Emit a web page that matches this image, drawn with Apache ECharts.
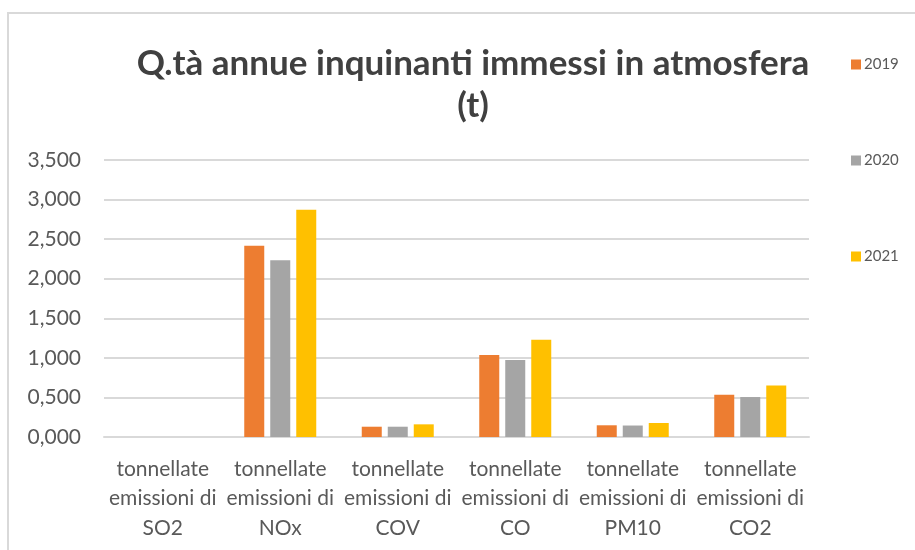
<!DOCTYPE html>
<html>
<head>
<meta charset="utf-8">
<script src="https://cdn.jsdelivr.net/npm/echarts@6/dist/echarts.min.js"></script>
<style>
  html, body { margin: 0; padding: 0; background: #fff; }
  #main { width: 915px; height: 550px; }
</style>
</head>
<body>
<div id="main"></div>
<script>
// categorie e valori
var categories = [
  "tonnellate\nemissioni di\nSO2",
  "tonnellate\nemissioni di\nNOx",
  "tonnellate\nemissioni di\nCOV",
  "tonnellate\nemissioni di\nCO",
  "tonnellate\nemissioni di\nPM10",
  "tonnellate\nemissioni di\nCO2"
];
var years = ["2019", "2020", "2021"];
var values2019 = [0, 2.415, 0.13, 1.037, 0.148, 0.535];
var values2020 = [0, 2.234, 0.13, 0.973, 0.145, 0.505];
var values2021 = [0, 2.87, 0.16, 1.23, 0.177, 0.65];
var yTicks = { min: 0, max: 3.5, interval: 0.5 };

var myChart = echarts.init(document.getElementById("main"));

var fontFam = "Lato, 'Open Sans', sans-serif";

var option = {
  animation: false,
  color: ["#ED7D31", "#A5A5A5", "#FFC000"],
  graphic: [{
    type: "rect",
    shape: { x: 8, y: 13, width: 920, height: 560 },
    style: { fill: null, stroke: "#d9d9d9", lineWidth: 2 }
  }],
  title: {
    text: "Q.tà annue inquinanti immessi in atmosfera\n(t)",
    left: 468,
    top: 38,
    textAlign: "center",
    textStyle: {
      fontFamily: fontFam,
      fontWeight: "bold",
      fontSize: 35,
      lineHeight: 42,
      color: "#404040"
    }
  },
  legend: {
    orient: "vertical",
    left: 846,
    top: 52,
    itemWidth: 10,
    itemHeight: 10,
    itemGap: 81,
    icon: "rect",
    data: years,
    textStyle: { fontFamily: fontFam, fontSize: 15, color: "#595959", padding: [0, 0, 0, -2] }
  },
  grid: {
    left: 104,
    right: 106,
    top: 160,
    bottom: 113,
    containLabel: false
  },
  xAxis: {
    type: "category",
    data: categories,
    axisTick: { show: false },
    axisLine: { lineStyle: { color: "#d9d9d9", width: 2 } },
    axisLabel: {
      interval: 0,
      margin: 17,
      fontFamily: fontFam,
      fontSize: 21,
      lineHeight: 29.5,
      color: "#595959"
    }
  },
  yAxis: {
    type: "value",
    min: yTicks.min,
    max: yTicks.max,
    interval: yTicks.interval,
    axisLine: { show: false },
    axisTick: { show: false },
    splitLine: { lineStyle: { color: "#d9d9d9", width: 2 } },
    axisLabel: {
      margin: 23,
      fontFamily: fontFam,
      fontSize: 21,
      color: "#595959",
      formatter: function (v) { return v.toFixed(3).replace(".", ","); }
    }
  },
  series: [
    { name: "2019", type: "bar", data: values2019, barWidth: 20, barGap: "30%" },
    { name: "2020", type: "bar", data: values2020, barWidth: 20, barGap: "30%" },
    { name: "2021", type: "bar", data: values2021, barWidth: 20, barGap: "30%" }
  ]
};

myChart.setOption(option);
</script>
</body>
</html>
